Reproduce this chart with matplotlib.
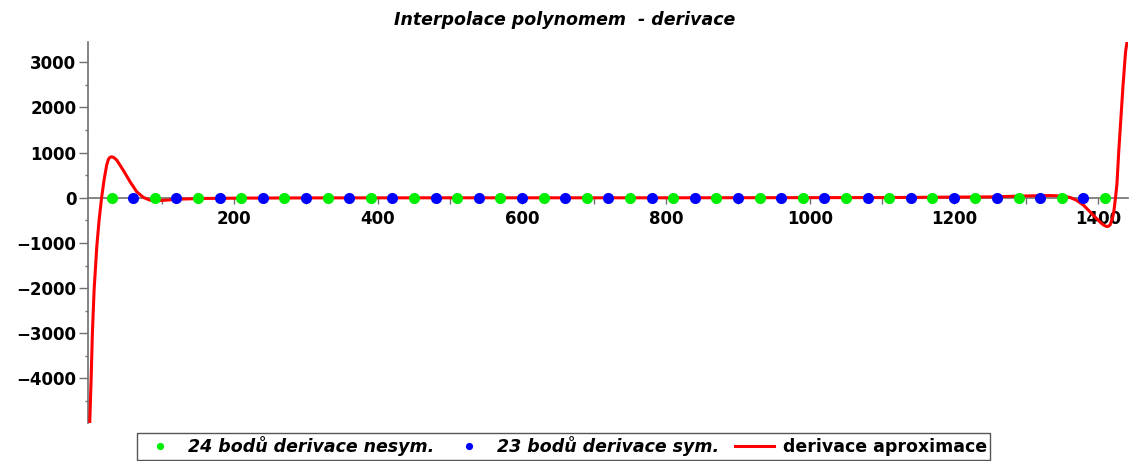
import numpy as np
import matplotlib
matplotlib.use("Agg")
import matplotlib.pyplot as plt
from matplotlib.ticker import MultipleLocator, FixedLocator

# uzly derivace (nesymetricka / symetricka diference)
x_nesym = [30, 90, 150, 210, 270, 330, 390, 450, 510, 570, 630, 690,
           750, 810, 870, 930, 990, 1050, 1110, 1170, 1230, 1290, 1350, 1410]
d_nesym = [0] * 24
x_sym = [60, 120, 180, 240, 300, 360, 420, 480, 540, 600, 660, 720,
         780, 840, 900, 960, 1020, 1080, 1140, 1200, 1260, 1320, 1380]
d_sym = [0] * 23

# derivace interpolacniho polynomu (odectene body krivky)
x_apr = [-0.5, 1.4, 3.2, 5.6, 9.3, 12.5, 16.0, 19.4, 23.0, 25.4, 27.5, 30.0,
         33.0, 37.0, 46.0, 55.6, 64.8, 74.0, 83.0, 92.6, 106.0, 125.0, 160.0,
         220.0, 320.0, 500.0, 800.0, 1100.0, 1250.0, 1300.0, 1333.0, 1350.0,
         1361.0, 1370.0, 1380.0, 1389.0, 1398.0, 1405.0, 1409.0, 1412.0, 1414.5,
         1417.0, 1420.0, 1422.0, 1424.5, 1426.5, 1429.0, 1432.0, 1435.0, 1438.5,
         1440.5]
d_apr = [-4990, -4040, -3000, -2040, -1085, -500, 0, 392, 720, 850, 895, 908,
         890, 835, 613, 354, 133, 9, -51, -66, -51, -29, -14,
         -6, -2, 0, 0, 5, 20, 40, 50, 40,
         10, -51, -162, -310, -456, -567, -612, -635, -632,
         -600, -470, -330, 0, 300, 1019, 1758, 2496, 3234,
         3450]

plt.rcParams["font.family"] = ["DejaVu Sans"]
plt.rcParams["font.weight"] = "bold"

fig = plt.figure(figsize=(11.29, 4.61), dpi=100)
ax = fig.add_axes([0.078, 0.082, 0.921, 0.827])

AXC = "#707070"
ax.plot(x_apr, d_apr, color="#ff0000", lw=2.2, zorder=3,
        label="derivace aproximace", solid_joinstyle="round")
ax.plot(x_nesym, d_nesym, "o", color="#00ee00", ms=8, mec="none", zorder=4,
        label="24 bodů derivace nesym.")
ax.plot(x_sym, d_sym, "o", color="#0000ff", ms=8, mec="none", zorder=4,
        label="23 bodů derivace sym.")

ax.set_xlim(-2.8, 1441.7)
ax.set_ylim(-4990, 3450)

ax.spines["top"].set_visible(False)
ax.spines["right"].set_visible(False)
ax.spines["bottom"].set_position(("data", 0))
for sp in ("left", "bottom"):
    ax.spines[sp].set_color(AXC)
    ax.spines[sp].set_linewidth(1.2)
    ax.spines[sp].set_zorder(2)

ax.xaxis.set_major_locator(FixedLocator([200, 400, 600, 800, 1000, 1200, 1400]))
ax.xaxis.set_minor_locator(FixedLocator([100, 300, 500, 700, 900, 1100, 1300]))
ax.yaxis.set_major_locator(MultipleLocator(1000))
ax.yaxis.set_minor_locator(MultipleLocator(500))
ax.tick_params(axis="x", which="both", direction="out", length=4, width=1,
               color=AXC, labelsize=12, pad=5)
ax.tick_params(axis="y", which="major", direction="out", length=6.5, width=1,
               color=AXC, labelsize=12, pad=2)
ax.tick_params(axis="y", which="minor", direction="out", length=2.5, width=1,
               color=AXC)
for lbl in ax.get_xticklabels() + ax.get_yticklabels():
    lbl.set_fontweight("bold")

fig.text(0.5, 0.957, "Interpolace polynomem  - derivace", ha="center",
         va="center", fontsize=12.5, fontweight="bold", style="italic")

h, l = ax.get_legend_handles_labels()
order = [1, 2, 0]
leg = fig.legend([h[i] for i in order], [l[i] for i in order],
                 loc="center", bbox_to_anchor=(0.4991, 0.0315), ncol=3,
                 fancybox=False, edgecolor="#555555", framealpha=1,
                 prop={"size": 12.5, "weight": "bold"}, handlelength=2.25,
                 columnspacing=0.9, handletextpad=0.5, borderpad=0.2,
                 borderaxespad=0, markerscale=0.65)
leg.get_frame().set_linewidth(1.0)
texts = leg.get_texts()
texts[0].set_style("italic")
texts[1].set_style("italic")

fig.savefig("out.png", dpi=100)
